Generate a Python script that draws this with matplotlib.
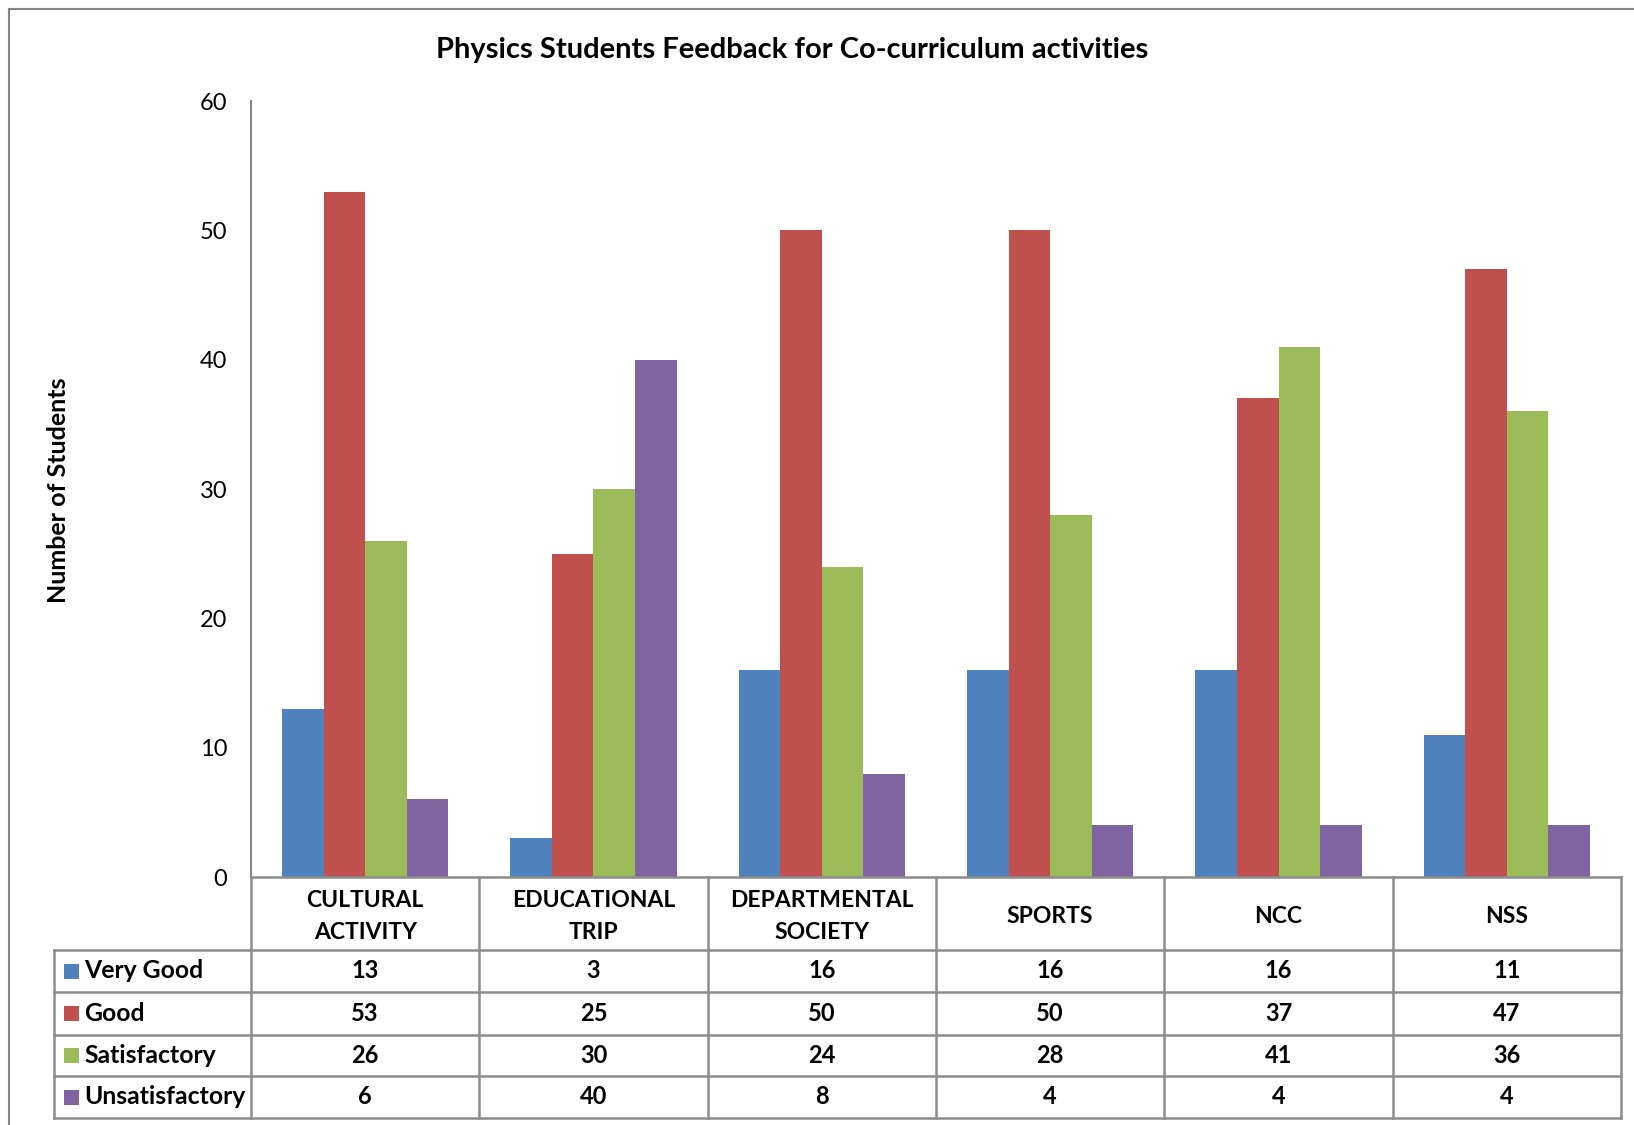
import matplotlib
matplotlib.use("Agg")
import matplotlib.pyplot as plt
import matplotlib.transforms as mtransforms
from matplotlib.patches import Rectangle

plt.rcParams['font.family'] = ['Lato', 'DejaVu Sans']

# ---- data ----
categories = ["CULTURAL\nACTIVITY", "EDUCATIONAL\nTRIP", "DEPARTMENTAL\nSOCIETY",
              "SPORTS", "NCC", "NSS"]
series_names = ["Very Good", "Good", "Satisfactory", "Unsatisfactory"]
very_good = [13, 3, 16, 16, 16, 11]
good = [53, 25, 50, 50, 37, 47]
satisfactory = [26, 30, 24, 28, 41, 36]
unsatisfactory = [6, 40, 8, 4, 4, 4]
series_values = [very_good, good, satisfactory, unsatisfactory]
colors = ["#4F81BD", "#C0504D", "#9BBB59", "#8064A2"]
y_ticks = [0, 10, 20, 30, 40, 50, 60]
title = "Physics Students Feedback for Co-curriculum activities"
y_label = "Number of Students"

W, H = 1634, 1125
fig = plt.figure(figsize=(W / 100, H / 100), dpi=100)

# axes geometry in pixels
ax_l, ax_r, ax_t, ax_b = 251, 1621, 101, 877
ax = fig.add_axes([ax_l / W, (H - ax_b) / H, (ax_r - ax_l) / W, (ax_b - ax_t) / H])
ax_h_px = ax_b - ax_t
ax_w_px = ax_r - ax_l

n_cat = len(categories)
n_ser = len(series_values)
bar_w = 1.0 / (n_ser + 1.5)
for i, (vals, col) in enumerate(zip(series_values, colors)):
    offs = (i - (n_ser - 1) / 2) * bar_w
    ax.bar([c + offs for c in range(n_cat)], vals, width=bar_w, color=col,
           edgecolor='none', zorder=2)

ax.set_xlim(-0.5, n_cat - 0.5)
ax.set_ylim(0, 60)
ax.set_yticks(y_ticks)
ax.set_yticklabels([str(t) for t in y_ticks], fontsize=17)
ax.tick_params(axis='y', length=0, pad=17)
ax.set_xticks([])
for s in ['top', 'right', 'bottom']:
    ax.spines[s].set_visible(False)
ax.spines['left'].set_color('#868686')
ax.spines['left'].set_linewidth(1.5)

# ---- data table under the chart ----
trans = mtransforms.blended_transform_factory(ax.transData, ax.transAxes)

def yax(px):
    """pixel row below baseline -> axes fraction"""
    return -(px - ax_b) / ax_h_px

def xax(px):
    return (px - ax_l) / ax_w_px

grid_col = '#8c8c8c'
lw = 1.8
row_edges = [877, 950, 992, 1035, 1076, 1118]
left_px = 54

# horizontal lines
ax.plot([-0.5, n_cat - 0.5], [0, 0], transform=trans, color=grid_col, lw=lw,
        clip_on=False, zorder=3)
for py in row_edges[1:]:
    ax.plot([xax(left_px), 1.0], [yax(py), yax(py)], transform=ax.transAxes,
            color=grid_col, lw=lw, clip_on=False)
# vertical lines
for k in range(n_cat + 1):
    ax.plot([k - 0.5, k - 0.5], [yax(row_edges[0]), yax(row_edges[-1])],
            transform=trans, color=grid_col, lw=lw, clip_on=False)
ax.plot([xax(left_px), xax(left_px)], [yax(row_edges[1]), yax(row_edges[-1])],
        transform=ax.transAxes, color=grid_col, lw=lw, clip_on=False)

# category header
hy = yax((row_edges[0] + row_edges[1]) / 2 + 3)
for c, name in enumerate(categories):
    ax.text(c, hy, name, transform=trans, ha='center', va='center',
            fontsize=16.5, fontweight='bold', linespacing=1.6)

# rows
for r, (name, vals, col) in enumerate(zip(series_names, series_values, colors)):
    cy = yax((row_edges[r + 1] + row_edges[r + 2]) / 2)
    sq = 15
    ax.add_patch(Rectangle((xax(64), cy - (sq / 2) / ax_h_px), sq / ax_w_px, sq / ax_h_px,
                           transform=ax.transAxes, facecolor=col, edgecolor='none',
                           clip_on=False))
    ax.text(xax(84), cy, name, transform=ax.transAxes, ha='left', va='center',
            fontsize=17.8, fontweight='bold')
    for c, v in enumerate(vals):
        ax.text(c, cy, str(v), transform=trans, ha='center', va='center',
                fontsize=17, fontweight='bold')

# title and y label
fig.text(792 / W, 1 - 50 / H, title, ha='center', va='center', fontsize=21,
         fontweight='bold')
fig.text(59 / W, 1 - 490 / H, y_label, ha='center', va='center', rotation=90,
         fontsize=18, fontweight='bold')

# outer chart frame (top & left edges visible)
fig.add_artist(plt.Line2D([8.5 / W, 1.0], [1 - 8.5 / H, 1 - 8.5 / H],
                          transform=fig.transFigure, color='#868686', lw=1.5))
fig.add_artist(plt.Line2D([8.5 / W, 8.5 / W], [0.0, 1 - 8.5 / H],
                          transform=fig.transFigure, color='#868686', lw=1.5))

fig.savefig("out.png", dpi=100)
